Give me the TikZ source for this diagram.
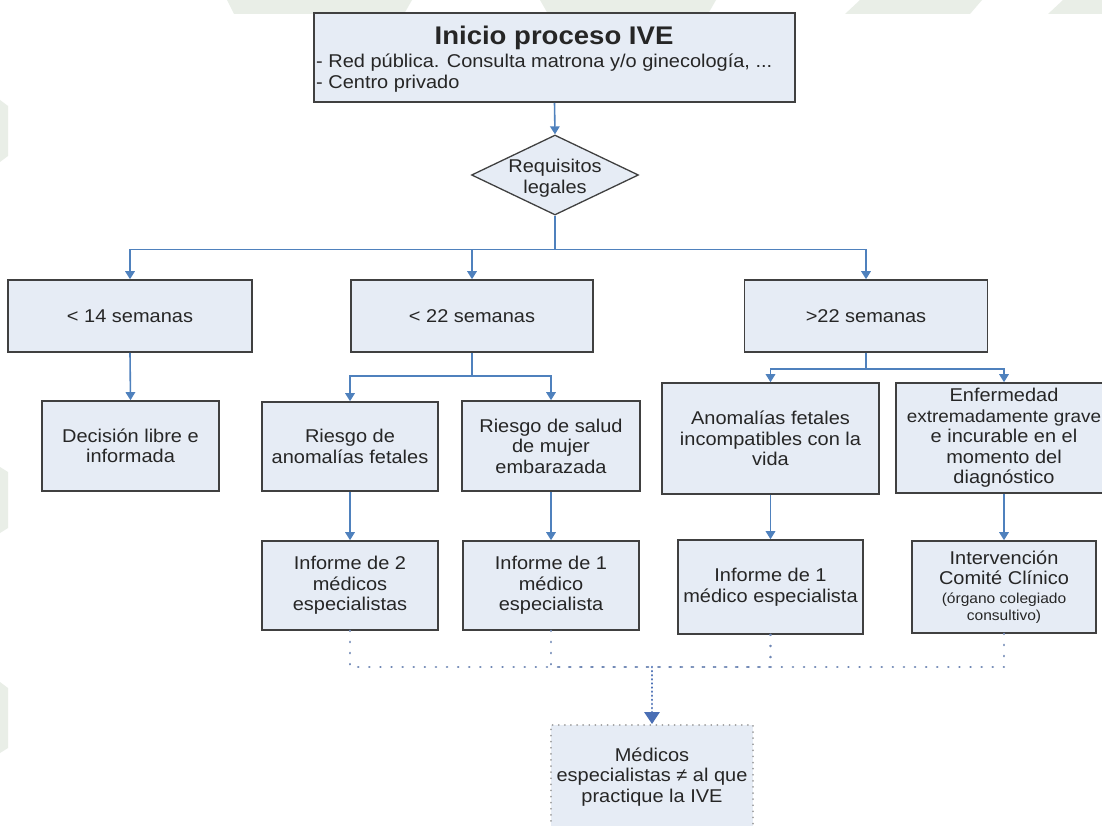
\documentclass[tikz,border=0pt]{standalone}
\usepackage{fontspec}
\setmainfont{Liberation Sans}[FakeStretch=1.08]
\usetikzlibrary{shapes.geometric,arrows.meta}
\definecolor{boxfill}{HTML}{E6ECF5}
\definecolor{boxline}{HTML}{404040}
\definecolor{connblue}{HTML}{4F81BD}
\definecolor{txt}{HTML}{262626}
\definecolor{dotc}{HTML}{6F87B5}
\definecolor{dotdark}{HTML}{4A6FB5}
\definecolor{wm}{HTML}{E9EEE7}
\begin{document}
\begin{tikzpicture}[x=1pt,y=-1pt,
  basefont/.style={font=\fontsize{18.5}{20.5}\selectfont, text=txt},
  pbox/.style={basefont, draw=boxline, line width=1.6pt, fill=boxfill, inner sep=0pt, align=center},
  arr/.style={draw=connblue, line width=1.6pt, -{Triangle[width=9.5pt,length=8pt]}},
  dotpath/.style={draw=dotc, line width=2.6pt, line cap=round, dash pattern=on 0.1pt off 11pt},
  finalarr/.style={draw=dotdark, line width=2.6pt, line cap=round, dash pattern=on 0.1pt off 4pt, -{Triangle[width=15pt,length=12pt,color=dotdark]}},
  dotbox/.style={basefont, draw=gray!75, line width=1.8pt, line cap=round, dash pattern=on 0.1pt off 6pt, fill=boxfill, inner sep=0pt, align=center}
]
\useasboundingbox (0,0) rectangle (1102,826);
\fill[white] (0,0) rectangle (1102,826);
% faint background shapes
\fill[wm] (227,0) -- (412,0) -- (404,14) -- (234,14) -- cycle;
\fill[wm] (540,0) -- (716,0) -- (708,14) -- (548,14) -- cycle;
\fill[wm] (860,0) -- (982,0) -- (970,14) -- (845,14) -- cycle;
\fill[wm] (1063,0) -- (1102,0) -- (1102,14) -- (1048,14) -- cycle;
\fill[wm] (0,100) -- (8,106) -- (8,156) -- (0,162) -- cycle;
\fill[wm] (0,467) -- (8,472) -- (8,528) -- (0,533) -- cycle;
\fill[wm] (0,682) -- (8,688) -- (8,748) -- (0,753) -- cycle;

% top box
\node[pbox, minimum width=481pt, minimum height=89pt] (top) at (554.5,57.5) {};
\node[font=\bfseries\fontsize{25.5}{28}\selectfont, text=txt, inner sep=0pt] (title) at (554,38) {Inicio proceso IVE};
\node[basefont, anchor=west, inner sep=0pt] (l1) at (316,63) {- Red pública. Consulta matrona y/o ginecología, ...};
\node[basefont, anchor=west, inner sep=0pt] (l2) at (316,84) {- Centro privado};

% decision
\node[diamond, draw=boxline, line width=1.3pt, fill=boxfill, minimum width=167pt, minimum height=80pt, inner sep=0pt] (req) at (555,175) {};
\node[basefont, align=center, inner sep=0pt] (reqt) at (555,178) {Requisitos\\legales};

% row 1
\node[pbox, minimum width=244pt, minimum height=72pt] (w14) at (130,316) {< 14 semanas};
\node[pbox, minimum width=242pt, minimum height=72pt] (w22) at (472,316) {< 22 semanas};
\node[pbox, minimum width=243pt, minimum height=72pt] (w22p) at (866,316) {>22 semanas};

% row 2
\node[pbox, minimum width=177pt, minimum height=90pt] (dec) at (130.5,446) {Decisión libre e\\informada};
\node[pbox, minimum width=176pt, minimum height=89pt] (rAn) at (350,446.5) {Riesgo de\\anomalías fetales};
\node[pbox, minimum width=178pt, minimum height=90pt] (rSal) at (551,446) {Riesgo de salud\\de mujer\\embarazada};
\node[pbox, minimum width=217pt, minimum height=111pt] (anom) at (770.5,438.5) {Anomalías fetales\\incompatibles con la\\vida};
\node[pbox, minimum width=216pt, minimum height=110pt] (enf) at (1004,438) {Enfermedad\\{\fontsize{17.5}{20.5}\selectfont extremadamente grave}\\e incurable en el\\momento del\\diagnóstico};

% row 3
\node[pbox, minimum width=176pt, minimum height=89pt] (inf2) at (350,585.5) {Informe de 2\\médicos\\especialistas};
\node[pbox, minimum width=176pt, minimum height=89pt] (inf1) at (551,585.5) {Informe de 1\\médico\\especialista};
\node[pbox, minimum width=185pt, minimum height=94pt] (inf3) at (770.5,587) {Informe de 1\\médico especialista};
\node[pbox, minimum width=184pt, minimum height=92pt] (interv) at (1004,587) {Intervención\\Comité Clínico\\[-2pt]{\fontsize{14.4}{16}\selectfont (órgano colegiado}\\[-3pt]{\fontsize{14.4}{16}\selectfont consultivo)}};

% bottom
\node[dotbox, minimum width=202pt, minimum height=104pt] (med) at (652,777) {Médicos\\especialistas ≠ al que\\practique la IVE};

% connectors
\draw[arr] (top.south) -- (req.north);
\draw[arr] (req.south) -- ++(0,34) -| (w14.north);
\draw[arr] (req.south) -- ++(0,34) -| (w22.north);
\draw[arr] (req.south) -- ++(0,34) -| (w22p.north);
\draw[arr] (w14.south) -- (dec.north);
\draw[arr] (w22.south) -- ++(0,23) -| (rAn.north);
\draw[arr] (w22.south) -- ++(0,23) -| (rSal.north);
\draw[arr] (w22p.south) -- ++(0,16) -| (anom.north);
\draw[arr] (w22p.south) -- ++(0,16) -| (enf.north);
\draw[arr] (rAn.south) -- (inf2.north);
\draw[arr] (rSal.south) -- (inf1.north);
\draw[arr] (anom.south) -- (inf3.north);
\draw[arr] (enf.south) -- (interv.north);

\coordinate (j) at (652,667);
\draw[dotpath] (inf2.south) |- (j);
\draw[dotpath] (inf1.south) |- (j);
\draw[dotpath] (inf3.south) |- (j);
\draw[dotpath] (interv.south) |- (j);
\draw[finalarr] (j) -- (med.north);
\end{tikzpicture}
\end{document}
